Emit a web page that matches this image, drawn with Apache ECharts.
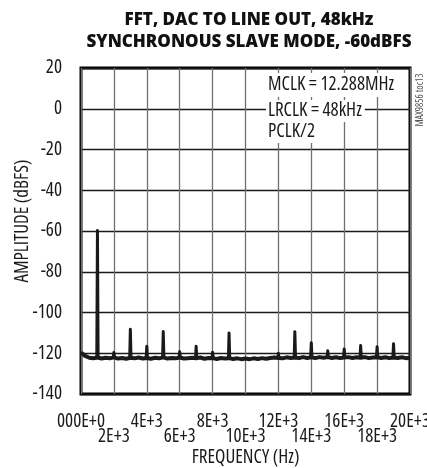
<!DOCTYPE html>
<html>
<head>
<meta charset="utf-8">
<script src="https://cdn.jsdelivr.net/npm/echarts@6/dist/echarts.min.js"></script>
<style>
html,body{margin:0;padding:0;background:#fff;}
#chart{width:427px;height:468px;}
</style>
</head>
<body>
<div id="chart"></div>
<script>
// ---- data ----
const xTickLabels = ['000E+0','2E+3','4E+3','6E+3','8E+3','10E+3','12E+3','14E+3','16E+3','18E+3','20E+3'];
const noiseFreq = [0,250,500,750,1000,1250,1500,1750,2000,2250,2500,2750,3000,3250,3500,3750,4000,4250,4500,4750,
  5000,5250,5500,5750,6000,6250,6500,6750,7000,7250,7500,7750,8000,8250,8500,8750,9000,9250,9500,9750,
  10000,10250,10500,10750,11000,11250,11500,11750,12000,12250,12500,12750,13000,13250,13500,13750,14000,14250,14500,14750,
  15000,15250,15500,15750,16000,16250,16500,16750,17000,17250,17500,17750,18000,18250,18500,18750,19000,19250,19500,19750,20000];
const noiseAmp = [-119.6,-121.3,-122.2,-122.5,-122.1,-122.6,-122.2,-122.5,-122.0,-122.6,-122.3,-122.7,-122.2,-122.5,-122.1,-122.6,-122.3,-122.7,-122.2,-122.5,
  -122.0,-122.6,-122.3,-122.5,-122.1,-122.6,-122.4,-122.2,-122.5,-122.1,-122.7,-122.3,-122.4,-122.8,-122.3,-122.6,-122.4,-122.8,-122.5,-122.9,
  -122.6,-122.9,-122.5,-122.8,-122.4,-122.7,-122.3,-122.1,-122.3,-122.5,-122.0,-122.3,-122.1,-122.4,-121.9,-122.3,-122.0,-122.4,-121.9,-122.2,
  -121.9,-122.3,-122.0,-122.4,-122.1,-121.9,-122.3,-122.0,-122.2,-121.9,-122.4,-122.1,-122.0,-122.3,-122.0,-122.4,-122.1,-122.3,-122.0,-122.4,-122.2];
const toneFreq = [1000,2000,3000,4000,5000,6000,7000,8000,9000,12000,13000,14000,15000,16000,17000,18000,19000];
const toneAmp  = [-59.8,-119.6,-108.2,-116.6,-109.3,-119.2,-116.6,-119.5,-110.1,-120.0,-109.4,-114.8,-118.8,-117.9,-116.2,-116.8,-115.3];
const annotations = ['MCLK = 12.288MHz','LRCLK = 48kHz','PCLK/2'];

// ---- build series data ----
const floorPts = noiseFreq.map((f,i)=>[f, noiseAmp[i]]);
const tonePts = [];
toneFreq.forEach((f,i)=>{
  const base = noiseAmp[noiseFreq.indexOf(f)];
  tonePts.push([f-40, base],[f, toneAmp[i]],[f+40, base],[f+40, '-']);
});

const FAM = "'Open Sans','DejaVu Sans Condensed',sans-serif";
const LBL = {fontFamily:FAM, fontStyle:'condensed', fontSize:19, color:'#1a1a1a'};
const chart = echarts.init(document.getElementById('chart'), null, {renderer:'canvas'});
const xBase = {
  type:'value', min:0, max:20000, interval:2000, gridIndex:0, position:'bottom',
  axisLine:{show:false}, axisTick:{show:false}
};
chart.setOption({
  animation:false,
  backgroundColor:'#fff',
  title:{
    text:'FFT, DAC TO LINE OUT, 48kHz\nSYNCHRONOUS SLAVE MODE, -60dBFS',
    left:244, top:4, textAlign:'center',
    textStyle:{fontFamily:FAM, fontWeight:800, fontSize:17, lineHeight:22, color:'#111'}
  },
  grid:{left:81, right:17, top:68, bottom:74, outerBoundsMode:'none', containLabel:false,
        show:true, borderColor:'#000', borderWidth:3, backgroundColor:'transparent'},
  xAxis:[
    Object.assign({}, xBase, {
      name:'FREQUENCY (Hz)', nameLocation:'middle', nameGap:54,
      nameTextStyle:LBL,
      axisLabel:Object.assign({}, LBL, {margin:18, showMinLabel:true, showMaxLabel:true,
        formatter:function(v){ const i=Math.round(v/2000); return i%2 ? '' : xTickLabels[i]; }}),
      splitLine:{show:true, lineStyle:{color:'#707070', width:1.3}}
    }),
    Object.assign({}, xBase, {
      axisLabel:Object.assign({}, LBL, {margin:33, showMinLabel:true, showMaxLabel:true,
        formatter:function(v){ const i=Math.round(v/2000); return i%2 ? xTickLabels[i] : ''; }}),
      splitLine:{show:false}
    })
  ],
  yAxis:{
    type:'value', min:-140, max:20, interval:20,
    name:'AMPLITUDE (dBFS)', nameLocation:'middle', nameGap:49, nameMoveOverlap:false,
    nameTextStyle:Object.assign({}, LBL, {padding:[0,0,0,20]}),
    axisLine:{show:false}, axisTick:{show:false},
    axisLabel:Object.assign({}, LBL, {margin:19}),
    splitLine:{show:true, lineStyle:{color:'#1a1a1a', width:1.3}}
  },
  series:[{
    type:'line', name:'floor', data:floorPts, xAxisIndex:0, yAxisIndex:0, symbol:'none', silent:true,
    lineStyle:{color:'#1a1a1a', width:4, join:'round'}, z:3
  },{
    type:'line', name:'tones', data:tonePts, xAxisIndex:0, yAxisIndex:0, symbol:'none', silent:true, connectNulls:false,
    lineStyle:{color:'#1a1a1a', width:3, join:'round', cap:'round'}, z:4
  }],
  graphic:[
    {type:'text', left:265, top:73, z:10, style:{text:annotations[0], font:"condensed 19px "+FAM, fill:'#1a1a1a', backgroundColor:'#fff', padding:[2,4,3,3]}},
    {type:'text', left:266, top:100, z:11, style:{text:annotations[1], font:"condensed 19px "+FAM, fill:'#1a1a1a', backgroundColor:'#fff', padding:[1,3,2,2]}},
    {type:'text', left:266, top:121, z:11, style:{text:annotations[2], font:"condensed 19px "+FAM, fill:'#1a1a1a', backgroundColor:'#fff', padding:[1,2,2,2]}},
    {type:'text', x:420, y:100, rotation:Math.PI/2, z:10, style:{text:'MAX9856 toc13', font:"condensed 10px "+FAM, fill:'#555', align:'center', verticalAlign:'middle'}}
  ]
});
</script>
</body>
</html>
